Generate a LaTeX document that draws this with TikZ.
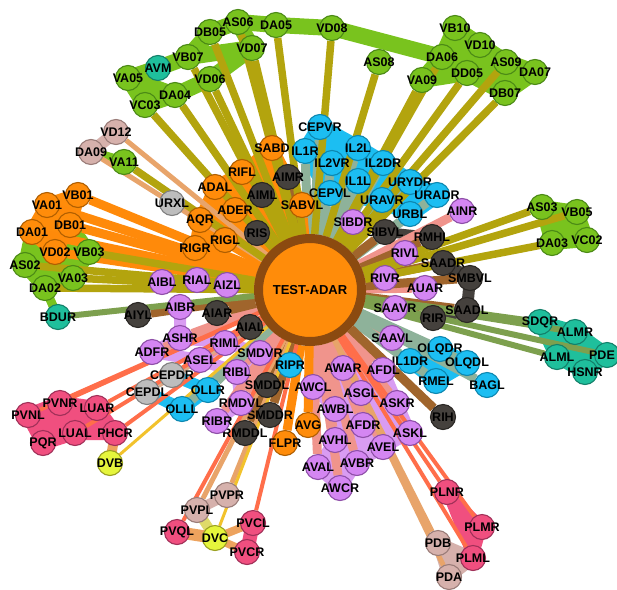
\documentclass[tikz,border=0pt]{standalone}
\usepackage{fontspec}
\setmainfont{Liberation Sans}
\pgfdeclarelayer{bgl}\pgfdeclarelayer{hull}\pgfdeclarelayer{edges}
\pgfsetlayers{bgl,hull,edges,main}
\definecolor{gF}{HTML}{79C31E}\definecolor{gD}{HTML}{4B8A16}\definecolor{gE}{HTML}{B3A40E}
\definecolor{tF}{HTML}{1FBF9C}\definecolor{tD}{HTML}{13806A}\definecolor{tE}{HTML}{7DA04E}
\definecolor{oF}{HTML}{FF8C0A}\definecolor{oD}{HTML}{B05E00}\definecolor{oE}{HTML}{FF8A0A}
\definecolor{dF}{HTML}{45413D}\definecolor{dD}{HTML}{2A2724}\definecolor{dE}{HTML}{A0652C}
\definecolor{cF}{HTML}{1CBEF2}\definecolor{cD}{HTML}{0D87B0}\definecolor{cE}{HTML}{8EB29A}
\definecolor{pF}{HTML}{D486F2}\definecolor{pD}{HTML}{8E4FA8}\definecolor{pE}{HTML}{F0948C}\definecolor{pH}{HTML}{D99CF2}
\definecolor{lF}{HTML}{BDBDBD}\definecolor{lD}{HTML}{808080}\definecolor{lE}{HTML}{DDAA88}
\definecolor{bF}{HTML}{D6B1AC}\definecolor{bD}{HTML}{9A7C78}\definecolor{bE}{HTML}{E8A46A}
\definecolor{kF}{HTML}{F04F7F}\definecolor{kD}{HTML}{A03058}\definecolor{kE}{HTML}{FF6E4A}
\definecolor{yF}{HTML}{E5F53C}\definecolor{yD}{HTML}{9AA020}\definecolor{yE}{HTML}{F2C22C}
\definecolor{tan}{HTML}{EDA35E}\definecolor{ring}{HTML}{8B4A10}
\tikzset{
 nd/.style={circle, minimum size=25pt, inner sep=0pt, line width=1.1pt},
 G/.style={nd, fill=gF, draw=gD}, T/.style={nd, fill=tF, draw=tD},
 O/.style={nd, fill=oF, draw=oD}, D/.style={nd, fill=dF, draw=dD},
 C/.style={nd, fill=cF, draw=cD}, P/.style={nd, fill=pF, draw=pD},
 L/.style={nd, fill=lF, draw=lD}, B/.style={nd, fill=bF, draw=bD},
 K/.style={nd, fill=kF, draw=kD}, Y/.style={nd, fill=yF, draw=yD},
 lbl/.style={font=\fontsize{12.5}{13}\selectfont\bfseries, inner sep=0pt, text=black},
 eG/.style={draw=gE, line width=7.5pt}, eT/.style={draw=tE, line width=6pt},
 eO/.style={draw=oE, line width=9pt}, eD/.style={draw=dE, line width=9pt},
 eC/.style={draw=cE, line width=9pt}, eP/.style={draw=pE, line width=9pt},
 eL/.style={draw=lE, line width=6pt}, eB/.style={draw=bE, line width=5pt},
 eK/.style={draw=kE, line width=4pt}, eY/.style={draw=yE, line width=3pt},
 hb/.style={line join=round, line cap=round},
}
\begin{document}
\begin{tikzpicture}[x=1pt,y=-1pt]
\useasboundingbox (0,0) rectangle (617,589);
\begin{pgfonlayer}{bgl}\fill[white] (0,0) rectangle (617,589);\end{pgfonlayer}

\node[circle, fill=oF, draw=ring, line width=9pt, minimum size=103pt, inner sep=0pt,
  font=\fontsize{13}{14}\selectfont\bfseries] (c) at (310,290) {TEST-ADAR};

\foreach \n/\x/\y in {DB05/210/32, AS06/238/22, DA05/276/25, VD08/332/28, VD07/252/48, AS08/379/62,
  VB07/188/57, VA05/128/78, DA04/175/95, VC03/145/105, VD06/210/79, VA11/124/162, VB10/455/28,
  VD10/480/45, DA06/442/57, AS09/506/62, DA07/535/72, VA09/422/80, DD05/467/73, DB07/505/93,
  VB03/89/252, AS02/25/265, VA03/73/278, DA02/45/288, AS03/542/207, VB05/577/212, DA03/552/243, VC02/587/240}
  \node[G, label={[lbl]center:\n}] (\n) at (\x,\y) {};
\foreach \n/\x/\y in {AVM/158/68, BDUR/58/317, SDQR/540/322, ALMR/575/332, ALML/557/357, HSNR/585/372}
  \node[T, label={[lbl]center:\n}] (\n) at (\x,\y) {};
\node[T, label={[lbl, xshift=-5pt]center:PDE}] (PDE) at (607,355) {};
\foreach \n/\x/\y in {VB01/78/195, VA01/47/205, DA01/32/232, DB01/70/225, VD02/55/252, SABD/272/148,
  RIFL/242/172, ADAL/215/187, ADER/235/210, AQR/200/220, RIGL/225/240, RIGR/195/248, SABVL/302/205,
  AVG/308/425, FLPR/285/443}
  \node[O, label={[lbl]center:\n}] (\n) at (\x,\y) {};
\foreach \n/\x/\y in {AIMR/288/177, AIML/262/195, RIS/257/233, SIBVL/385/232, RMHL/432/237, SAADR/443/263,
  SMBVL/470/278, SAADL/467/310, RIR/433/318, AIYL/138/315, AIAR/217/313, AIAL/250/327, SMDDL/267/385,
  SMDDR/270/415, RMDDL/245/433, RIH/443/417}
  \node[D, label={[lbl]center:\n}] (\n) at (\x,\y) {};
\foreach \n/\x/\y in {CEPVR/320/127, IL1R/305/151, IL2L/358/148, IL2VR/332/163, IL2DR/383/163, IL1L/358/181,
  CEPVL/330/193, URYDR/410/182, URADR/437/195, URAVR/382/200, URBL/410/214, RIPR/290/365, IL1DR/410/361,
  OLQDR/440/349, OLQDL/467/363, RMEL/436/381, BAGL/487/385, OLLR/208/390, OLLL/182/409}
  \node[C, label={[lbl]center:\n}] (\n) at (\x,\y) {};
\foreach \n/\x/\y in {AINR/462/211, SIBDR/353/222, RIVL/405/253, RIVR/385/278, AUAR/425/288, SAAVR/395/308,
  SAAVL/392/338, AIBL/162/282, RIAL/197/280, AIZL/227/285, AIBR/180/307, ASHR/180/338, ADFR/152/352,
  RIML/225/343, SMDVR/260/353, ASEL/200/360, RIBL/237/372, AWAR/343/368, AFDL/383/370, AWCL/313/387,
  ASGL/361/393, ASKR/397/403, RMDVL/241/403, AWBL/335/409, RIBR/217/421, AFDR/363/425, ASKL/410/433,
  AVHL/335/440, AVEL/383/447, AVAL/318/467, AVBR/357/463, AWCR/340/488}
  \node[P, label={[lbl]center:\n}] (\n) at (\x,\y) {};
\foreach \n/\x/\y in {URXL/172/203, CEPDR/172/375, CEPDL/147/392}
  \node[L, label={[lbl]center:\n}] (\n) at (\x,\y) {};
\foreach \n/\x/\y in {VD12/116/132, DA09/91/152, PVPR/227/495, PVPL/197/510, PDB/438/543, PDA/449/577}
  \node[B, label={[lbl]center:\n}] (\n) at (\x,\y) {};
\foreach \n/\x/\y in {PVNL/28/415, PVNR/60/403, LUAR/97/408, LUAL/75/433, PHCR/115/433, PQR/43/443,
  PVQL/177/532, PVCL/253/523, PVCR/247/552, PLNR/447/492, PLMR/482/527, PLML/473/558}
  \node[K, label={[lbl]center:\n}] (\n) at (\x,\y) {};
\foreach \n/\x/\y in {DVB/110/463, DVC/215/538}
  \node[Y, label={[lbl]center:\n}] (\n) at (\x,\y) {};

\begin{pgfonlayer}{hull}
 \draw[hb, gF, line width=16pt] (VA05.center) -- (AVM.center) -- (VB07.center) -- (DB05.center) -- (AS06.center) -- (DA05.center) -- (VD08.center) -- (DA06.center);
 \draw[hb, gF, line width=16pt] (VB07.center) -- (VD07.center) -- (AS06.center);
 \filldraw[hb, gF, line width=16pt] (VA05.center) -- (VC03.center) -- (DA04.center) -- cycle;
 \draw[hb, gF, line width=16pt] (DA04.center) -- (VD06.center) -- (VD07.center);
 \filldraw[hb, gF, line width=16pt] (VA09.center) -- (DA06.center) -- (VB10.center) -- (VD10.center) -- (AS09.center) -- (DA07.center) -- (DB07.center) -- (DD05.center) -- cycle;
 \filldraw[hb, gF, line width=14pt] (AS03.center) -- (VB05.center) -- (VC02.center) -- (DA03.center) -- cycle;
 \filldraw[hb, gF, line width=14pt] (DA01.center) -- (AS02.center) -- (DA02.center) -- (VA03.center) -- (VB03.center) -- (DB01.center) -- cycle;
 \draw[hb, gF, line width=9pt] (DA02.center) -- (BDUR.center);
 \filldraw[hb, oF, line width=14pt] (VA01.center) -- (VB01.center) -- (DB01.center) -- (VD02.center) -- (DA01.center) -- cycle;
 \draw[hb, bF, line width=12pt] (VD12.center) -- (DA09.center);
 \draw[hb, gF, line width=10pt] (DA09.center) -- (VA11.center);
 \filldraw[hb, oF, line width=12pt] (SABD.center) -- (RIFL.center) -- (ADAL.center) -- (AQR.center) -- (RIGR.center) -- (RIGL.center) -- (c.center) -- (SABVL.center) -- cycle;
 \filldraw[hb, cF, line width=16pt] (CEPVR.center) -- (IL2L.center) -- (IL2DR.center) -- (URYDR.center) -- (URADR.center) -- (URBL.center) -- (URAVR.center) -- (CEPVL.center) -- (IL1R.center) -- cycle;
 \filldraw[hb, cF, line width=14pt] (IL1DR.center) -- (OLQDR.center) -- (OLQDL.center) -- (RMEL.center) -- cycle;
 \draw[hb, cF, line width=12pt] (CEPDL.center) -- (OLLL.center) -- (OLLR.center) -- (CEPDR.center);
 \filldraw[hb, kF, line width=14pt] (PVNL.center) -- (PVNR.center) -- (LUAR.center) -- (PHCR.center) -- (LUAL.center) -- (PQR.center) -- cycle;
 \draw[hb, tan, line width=10pt] (PHCR.center) -- (DVB.center);
 \draw[hb, bF, line width=10pt] (PVPL.center) -- (PVPR.center);
 \draw[hb, yF!60!bF, line width=10pt] (PVPL.center) -- (DVC.center);
 \draw[hb, tan, line width=12pt] (PVQL.center) -- (DVC.center);
 \draw[hb, tan, line width=8pt] (PVCL.center) -- (DVC.center) -- (PVCR.center);
 \draw[hb, kF, line width=14pt] (PVCL.center) -- (PVCR.center);
 \filldraw[hb, bF, line width=12pt] (PDB.center) -- (PDA.center) -- (PLML.center) -- cycle;
 \filldraw[hb, kF, line width=10pt] (PLNR.center) -- (PLMR.center) -- (PLML.center) -- cycle;
 \filldraw[hb, tF, line width=14pt] (SDQR.center) -- (ALMR.center) -- (PDE.center) -- (HSNR.center) -- (ALML.center) -- cycle;
 \draw[hb, dF, line width=10pt] (SIBVL.center) -- (RMHL.center);
 \draw[hb, dF, line width=12pt] (SAADR.center) -- (SMBVL.center) -- (SAADL.center) -- (RIR.center);
 \draw[hb, pH, line width=12pt] (AIBL.center) -- (RIAL.center) -- (AIZL.center);
 \draw[hb, pH, line width=12pt] (AIBR.center) -- (ASHR.center) -- (ADFR.center) -- (ASEL.center) -- (RIBL.center) -- (RMDVL.center) -- (RIBR.center);
 \draw[hb, pH, line width=12pt] (ASHR.center) -- (RIML.center) -- (SMDVR.center) -- (RIBL.center);
 \draw[hb, pH, line width=12pt] (ASEL.center) -- (RIML.center);
 \filldraw[hb, pH, line width=12pt] (AWCL.center) -- (AWAR.center) -- (AFDL.center) -- (ASKR.center) -- (ASKL.center) -- (AVEL.center) -- (AVBR.center) -- (AWCR.center) -- (AVAL.center) -- (AVHL.center) -- (AWBL.center) -- cycle;
\end{pgfonlayer}

\begin{pgfonlayer}{edges}
 \foreach \n in {AINR, SIBDR, RIVL, RIVR, AUAR, SAAVR, SAAVL, AIBL, RIAL, AIZL, AIBR, ASHR, ADFR, RIML, SMDVR,
   ASEL, RIBL, AWAR, AFDL, AWCL, ASGL, ASKR, RMDVL, AWBL, RIBR, AFDR, ASKL, AVHL, AVEL, AVAL, AVBR, AWCR}
   \draw[eP] (c) -- (\n);
 \foreach \n in {CEPVR, IL1R, IL2L, IL2VR, IL2DR, IL1L, CEPVL, URYDR, URADR, URAVR, URBL, RIPR, IL1DR,
   OLQDR, OLQDL, RMEL, BAGL, OLLR, OLLL}
   \draw[eC] (c) -- (\n);
 \foreach \n in {AIMR, AIML, RIS, SIBVL, RMHL, SAADR, SMBVL, SAADL, RIR, AIYL, AIAR, AIAL, SMDDL, SMDDR, RMDDL, RIH}
   \draw[eD] (c) -- (\n);
 \foreach \n in {URXL, CEPDR, CEPDL} \draw[eL] (c) -- (\n);
 \foreach \n in {VB01, VA01, DA01, DB01, VD02, SABD, RIFL, ADAL, ADER, AQR, RIGL, RIGR, SABVL, AVG, FLPR}
   \draw[eO] (c) -- (\n);
 \foreach \n in {BDUR, SDQR, ALMR, PDE, ALML} \draw[eT] (c) -- (\n);
 \foreach \n in {VD12, DA09, PVPR, PVPL, PDB, PDA} \draw[eB] (c) -- (\n);
 \foreach \n in {DVB, DVC} \draw[eY] (c) -- (\n);
 \foreach \n in {PVNL, PVNR, LUAR, LUAL, PHCR, PVQL, PVCL, PLNR, PLMR, PLML} \draw[eK] (c) -- (\n);
 \foreach \n in {DB05, AS06, DA05, VD08, VD07, AS08, VB07, DA04, VC03, VD06, VA11, DA06, AS09, VA09, DD05, DB07,
   VB03, AS02, VA03, DA02, AS03, VB05, DA03}
   \draw[eG] (c) -- (\n);
\end{pgfonlayer}
\end{tikzpicture}
\end{document}
